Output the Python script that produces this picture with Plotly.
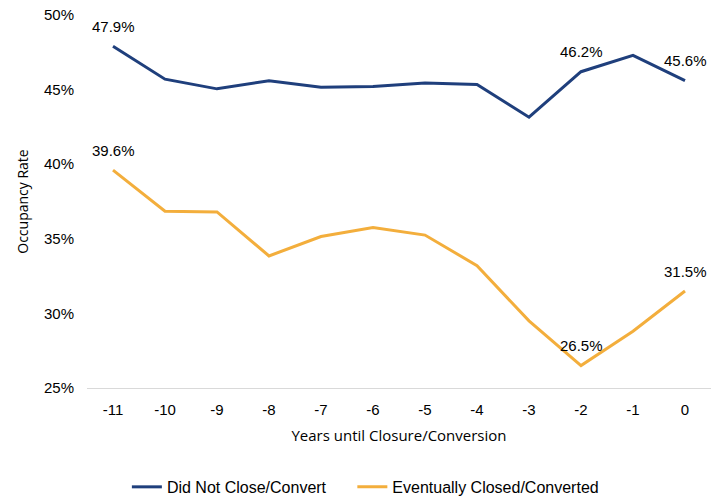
import plotly.graph_objects as go

years = [-11, -10, -9, -8, -7, -6, -5, -4, -3, -2, -1, 0]
did_not_close = [0.479, 0.457, 0.4505, 0.456, 0.4515, 0.452, 0.4545, 0.4535, 0.4315, 0.462, 0.473, 0.456]
closed = [0.396, 0.3685, 0.368, 0.3385, 0.3515, 0.3575, 0.3525, 0.332, 0.295, 0.265, 0.288, 0.315]
labeled_idx = [0, 9, 11]

FONT = "Liberation Sans, Arial, sans-serif"

fig = go.Figure()
fig.add_trace(go.Scatter(x=years, y=did_not_close, mode="lines", name="Did Not Close/Convert",
                         line=dict(color="#1f3f7c", width=3), legend="legend"))
fig.add_trace(go.Scatter(x=years, y=closed, mode="lines", name="Eventually Closed/Converted",
                         line=dict(color="#f3ae3c", width=3), legend="legend2"))

for series in (did_not_close, closed):
    for i in labeled_idx:
        fig.add_annotation(x=years[i], y=series[i], text=f"{series[i]*100:.1f}%",
                           showarrow=False, yshift=20, yanchor="middle",
                           font=dict(size=15, color="#000000", family=FONT))

leg_common = dict(orientation="h", xref="container", yref="container", xanchor="left",
                  y=0.03, yanchor="middle", font=dict(size=16, family=FONT), itemwidth=30,
                  bgcolor="rgba(0,0,0,0)")

fig.update_layout(
    width=725, height=502,
    margin=dict(l=87, r=14, t=15, b=114, autoexpand=False),
    plot_bgcolor="white", paper_bgcolor="white",
    font=dict(family=FONT, size=15, color="#000000"),
    showlegend=True,
    legend=dict(x=0.175, **leg_common),
    legend2=dict(x=0.486, **leg_common),
    xaxis=dict(range=[-11.5, 0.5], tickmode="array", tickvals=years, ticktext=[str(y) for y in years],
               showgrid=False, zeroline=False, showline=True, linecolor="#d9d9d9", linewidth=1,
               ticks="", tickfont=dict(size=15), ticklabelstandoff=8, automargin=False,
               title=dict(text="Years until Closure/Conversion", font=dict(size=15, family="Open Sans, sans-serif"), standoff=13)),
    yaxis=dict(range=[0.25, 0.50], dtick=0.05, tickformat=".0%", showgrid=False, zeroline=False,
               showline=False, ticks="", tickfont=dict(size=15), ticklabelstandoff=12, automargin=False,
               title=dict(text="Occupancy Rate", font=dict(size=14, family="Open Sans, sans-serif"), standoff=12)),
)

fig.write_html("out.html")
